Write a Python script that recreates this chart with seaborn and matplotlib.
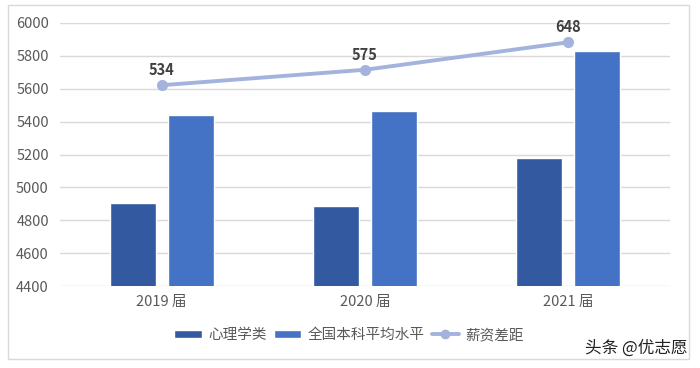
import matplotlib
matplotlib.use("Agg")
import matplotlib.pyplot as plt
import seaborn as sns
import pandas as pd
import numpy as np
from matplotlib.patches import Rectangle, Patch
from matplotlib.lines import Line2D

years = ["2019 届", "2020 届", "2021 届"]
psych = [4904, 4890, 5180]
national = [5438, 5465, 5828]
gap_vals = [534, 575, 648]
series_names = ["心理学类", "全国本科平均水平", "薪资差距"]
yticks = [4400, 4600, 4800, 5000, 5200, 5400, 5600, 5800, 6000]

sns.set_theme(style="white")
plt.rcParams["font.family"] = ["Noto Sans CJK SC", "DejaVu Sans"]

df = pd.DataFrame({
    "year": years * 2,
    "value": psych + national,
    "series": [series_names[0]] * 3 + [series_names[1]] * 3,
})

fig = plt.figure(figsize=(7, 3.68), dpi=100)
fig.patch.set_facecolor("white")
fig.add_artist(Rectangle((8 / 700, 1 - 359 / 368), 681 / 700, 354 / 368,
                         transform=fig.transFigure, fill=False,
                         edgecolor="#D9D9D9", linewidth=1))

ax = fig.add_axes([60 / 700, 1 - 286.3 / 368, 610 / 700, 263.6 / 368])
sns.barplot(data=df, x="year", y="value", hue="series",
            palette=["#335AA0", "#4472C4"], width=0.572, gap=0.21,
            saturation=1, ax=ax, legend=False, errorbar=None)
ax.set_ylim(4400, 6000)
ax.set_yticks(yticks)
ax.set_xlim(-0.5, 2.5)
ax.grid(axis="y", color="#D9D9D9", linewidth=1)
ax.set_axisbelow(True)
for s in ax.spines.values():
    s.set_visible(False)
ax.set_xlabel("")
ax.set_ylabel("")
ax.tick_params(axis="both", length=0, labelsize=10.5, labelcolor="#595959")
ax.tick_params(axis="y", pad=8)
ax.tick_params(axis="x", pad=6)

ax2 = ax.twinx()
sns.lineplot(x=years, y=gap_vals, ax=ax2, color="#A4B3DD", linewidth=2.8,
             marker="o", markersize=8, markeredgewidth=0, legend=False)
ax2.set_ylim(0, 700)
ax2.set_xlim(-0.5, 2.5)
ax2.axis("off")
for i, v in enumerate(gap_vals):
    ax2.annotate(str(v), (i, v), xytext=(0, 5), textcoords="offset points",
                 ha="center", va="bottom", fontsize=10.5, fontweight="bold",
                 color="#404040")

handles = [Patch(facecolor="#335AA0"), Patch(facecolor="#4472C4"),
           Line2D([0], [0], color="#A4B3DD", linewidth=2.8, marker="o",
                  markersize=6)]
leg = fig.legend(handles, series_names, loc="center", ncol=3,
                 bbox_to_anchor=(349 / 700, 1 - 335 / 368), frameon=False,
                 fontsize=10.5, handlelength=1.9, handleheight=0.5,
                 columnspacing=0.5, handletextpad=0.4)
for t in leg.get_texts():
    t.set_color("#595959")

fig.text(688 / 700, 1 - 348 / 368, "头条 @优志愿", ha="right", va="center",
         fontsize=12, color="#222222")

fig.savefig("out.png", dpi=100, facecolor="white")
